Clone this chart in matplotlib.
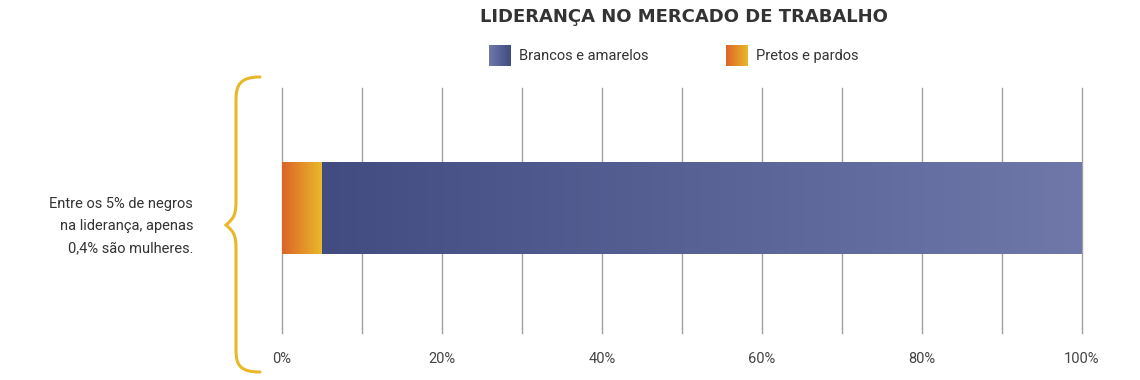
import numpy as np
import matplotlib.pyplot as plt
from matplotlib.colors import LinearSegmentedColormap
from matplotlib.path import Path
from matplotlib.patches import PathPatch

title = "LIDERANÇA NO MERCADO DE TRABALHO"
categories = ["Pretos e pardos", "Brancos e amarelos"]
values = [5, 95]
legend_order = ["Brancos e amarelos", "Pretos e pardos"]
ticks = [0, 10, 20, 30, 40, 50, 60, 70, 80, 90, 100]
tick_labels = ["0%", "", "20%", "", "40%", "", "60%", "", "80%", "", "100%"]
note = "Entre os 5% de negros\nna liderança, apenas\n0,4% são mulheres."

cmaps = {
    "Pretos e pardos": LinearSegmentedColormap.from_list("o", ["#dc6428", "#e9b92a"]),
    "Brancos e amarelos": LinearSegmentedColormap.from_list("b", ["#424c81", "#6f78a9"]),
}
plt.rcParams['font.family'] = ["Roboto", "DejaVu Sans"]

fig = plt.figure(figsize=(11.4, 3.8), dpi=100)
ax = fig.add_axes([282/1140, 1 - 333/380, 800/1140, 245/380])

grad = np.linspace(0, 1, 256).reshape(1, -1)
left = 0
for cat, v in zip(categories, values):
    ax.imshow(grad, cmap=cmaps[cat], aspect='auto',
              extent=[left, left + v, -0.355, 0.39], zorder=3)
    left += v

ax.set_xlim(0, 100)
ax.set_ylim(-1, 1)
ax.set_xticks(ticks)
ax.set_xticklabels(tick_labels, fontsize=10.5, color="#444444")
ax.tick_params(axis='x', length=0, pad=14)
ax.set_yticks([])
ax.grid(axis='x', color="#a0a0a0", lw=1, zorder=0)
for line in ax.get_xgridlines():
    line.set_clip_on(False)
for s in ax.spines.values():
    s.set_visible(False)

fig.text(684/1140, 1 - 17/380, title, ha='center', va='center',
         fontsize=13, fontweight='bold', color="#333333",
         family=["DejaVu Sans"])

# legend with gradient squares
leg_x = {"Brancos e amarelos": 489, "Pretos e pardos": 726}
for cat in legend_order:
    x0 = leg_x[cat]
    lax = fig.add_axes([x0/1140, 1 - 66/380, 22/1140, 21/380])
    g = grad if cat == "Pretos e pardos" else grad[:, ::-1]
    lax.imshow(g, cmap=cmaps[cat], aspect='auto')
    lax.axis('off')
    fig.text((x0 + 30)/1140, 1 - 56/380, cat, ha='left', va='center',
             fontsize=10.5, color="#333333")

# curly brace
def fx(px):
    return px / 1140
def fy(py):
    return 1 - py / 380
verts = [
    (260, 77), (240, 77), (236, 85), (236, 100),
    (236, 200), (236, 215), (234, 218), (226, 225),
    (234, 232), (236, 235), (236, 250),
    (236, 350), (236, 365), (240, 372), (260, 372),
]
codes = [Path.MOVETO] + [Path.CURVE4] * 3 + [Path.LINETO] + [Path.CURVE4] * 3 + \
        [Path.CURVE4] * 3 + [Path.LINETO] + [Path.CURVE4] * 3
verts = [(fx(x), fy(y)) for x, y in verts]
fig.add_artist(PathPatch(Path(verts, codes), fill=False, edgecolor="#e8b828",
                         lw=2.2, transform=fig.transFigure, capstyle='round'))

fig.text(193/1140, 1 - 226/380, note, ha='right', va='center',
         fontsize=10.5, color="#333333", linespacing=1.75)

fig.savefig("out.png", dpi=100)
